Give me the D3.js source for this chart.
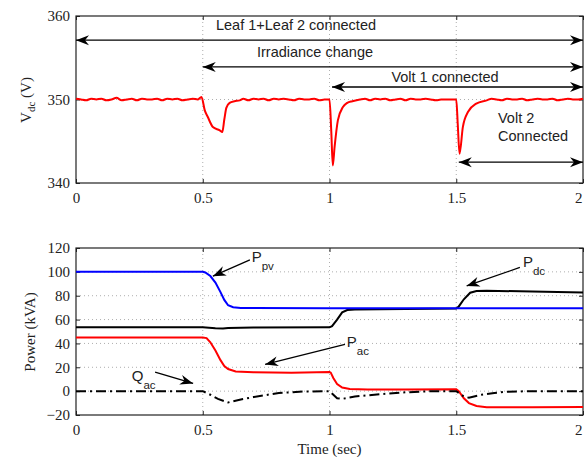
<!DOCTYPE html>
<html>
<head>
<meta charset="utf-8">
<script src="https://cdn.jsdelivr.net/npm/d3@7"></script>
<style>
  html, body { margin: 0; padding: 0; background: #fff; }
  svg { display: block; }
</style>
</head>
<body>
<svg id="chart" width="584" height="457"></svg>
<script>
// DC-link voltage, [time (s), Vdc (V)]
const vdcSeries = [
  [0,350.1],[0.02,350.0],[0.04,349.9],[0.06,350.1],[0.08,350.0],[0.1,350.1],[0.12,349.9],[0.14,350.0],
  [0.16,350.2],[0.18,349.9],[0.2,350.0],[0.22,350.1],[0.24,349.9],[0.26,350.1],[0.28,350.0],[0.3,350.0],
  [0.32,350.1],[0.34,349.9],[0.36,350.1],[0.38,350.0],[0.4,350.1],[0.42,349.9],[0.44,350.0],[0.46,350.1],
  [0.48,350.0],[0.495,350.3],[0.508,348.7],[0.52,347.9],[0.54,346.7],[0.567,346.3],[0.577,346.1],
  [0.585,347.6],[0.593,349.0],[0.606,349.6],[0.625,349.8],[0.646,349.9],[0.66,350.1],[0.68,349.9],
  [0.7,350.1],[0.72,350.0],[0.74,350.1],[0.76,349.9],[0.78,350.1],[0.8,350.0],[0.82,350.1],[0.84,350.0],
  [0.86,349.9],[0.88,350.1],[0.9,350.0],[0.92,350.0],[0.94,350.1],[0.96,349.9],[0.98,350.0],[1.0,350.0],
  [1.007,346.2],[1.013,342.1],[1.02,344.3],[1.033,347.5],[1.053,349.1],[1.07,349.6],[1.09,349.8],
  [1.12,350.0],[1.14,350.1],[1.16,349.9],[1.18,350.1],[1.2,350.0],[1.22,350.1],[1.24,349.9],[1.26,350.0],
  [1.28,350.1],[1.3,349.9],[1.32,350.1],[1.34,350.0],[1.36,350.0],[1.38,350.1],[1.4,350.0],[1.42,349.9],
  [1.44,350.0],[1.46,350.0],[1.48,350.0],[1.5,350.0],[1.506,347.0],[1.513,343.5],[1.526,346.7],
  [1.546,348.5],[1.579,349.5],[1.62,349.9],[1.64,350.1],[1.66,350.0],[1.68,349.9],[1.7,350.1],[1.72,350.0],
  [1.74,350.0],[1.76,350.1],[1.78,349.9],[1.8,350.0],[1.82,350.1],[1.84,350.0],[1.86,350.0],[1.88,350.1],
  [1.9,349.9],[1.92,350.0],[1.94,350.1],[1.96,350.0],[1.98,350.0],[2.0,350.1]
];

// Power flows, [time (s), kVA]
const ppvSeries = [
  [0,100],[0.5,100],[0.51,99.5],[0.53,96.5],[0.55,91],[0.57,83],[0.585,76.5],[0.6,72],
  [0.62,70.3],[0.65,69.8],[0.7,69.6],[1.0,69.5],[1.5,69.5],[2.0,69.5]
];
const pdcSeries = [
  [0,53.5],[0.5,53.5],[0.55,52.8],[0.58,52.6],[0.6,53.0],[0.7,53.3],[1.0,53.5],[1.01,54.5],
  [1.03,60],[1.05,66],[1.07,68.0],[1.1,68.5],[1.3,68.8],[1.5,69.2],[1.51,71],[1.53,77],
  [1.555,82.5],[1.58,84],[1.62,84.2],[1.8,83.5],[2.0,82.7]
];
const pacSeries = [
  [0,45],[0.5,45],[0.515,44.5],[0.53,41],[0.55,34],[0.57,26],[0.585,21],[0.6,18.5],[0.63,16.5],
  [0.7,15.8],[0.85,15.5],[1.0,16],[1.005,15.5],[1.015,11],[1.03,6],[1.05,3],[1.08,1.8],[1.15,1.3],
  [1.3,1.4],[1.5,1.5],[1.51,0],[1.53,-6],[1.55,-10],[1.58,-12.5],[1.62,-13.5],[1.8,-13.5],[2.0,-13.2]
];
const qacSeries = [
  [0,0],[0.5,0],[0.53,-3],[0.56,-6.5],[0.6,-9.5],[0.65,-7],[0.7,-5],[0.8,-1.5],[0.9,-0.3],[1.0,0],
  [1.01,-2],[1.03,-6],[1.05,-6.5],[1.1,-4.5],[1.2,-2.5],[1.3,-1],[1.4,0],[1.5,0],[1.51,-1.5],
  [1.53,-4.5],[1.55,-5.5],[1.6,-3],[1.65,-1.5],[1.7,-0.5],[1.8,0],[2.0,0]
];

// Tick values
const timeTicks = [0, 0.5, 1, 1.5, 2];
const vdcTicks = [340, 350, 360];
const powerTicks = [-20, 0, 20, 40, 60, 80, 100, 120];

const svg = d3.select("#chart");
const serif = "'Liberation Serif', 'Times New Roman', serif";
const sans = "'Liberation Sans', Arial, Helvetica, sans-serif";

const x = d3.scaleLinear().domain([0, 2]).range([76, 583]);
const yTop = d3.scaleLinear().domain([340, 360]).range([183, 16]);
const yBot = d3.scaleLinear().domain([-20, 120]).range([415, 248]);

// arrowhead marker (notched, filled)
const defs = svg.append("defs");
defs.append("marker")
  .attr("id", "head")
  .attr("viewBox", "-14 -6 15 12")
  .attr("refX", 0).attr("refY", 0)
  .attr("markerWidth", 15).attr("markerHeight", 12)
  .attr("markerUnits", "userSpaceOnUse")
  .attr("orient", "auto-start-reverse")
  .append("path")
  .attr("d", "M0,0 L-13,-5 L-9,0 L-13,5 Z")
  .attr("fill", "#000");

function drawPanel(y, yTicks) {
  const g = svg.append("g");
  const [x0, x1] = x.range();
  const [yb, yt] = y.range();

  // dotted grid
  const grid = g.append("g").attr("stroke", "#999").attr("stroke-width", 0.8)
    .attr("stroke-dasharray", "1,3");
  grid.selectAll(".gx").data(timeTicks.slice(1, -1)).join("line")
    .attr("x1", d => x(d)).attr("x2", d => x(d)).attr("y1", yb).attr("y2", yt);
  grid.selectAll(".gy").data(yTicks.slice(1, -1)).join("line")
    .attr("y1", d => y(d)).attr("y2", d => y(d)).attr("x1", x0).attr("x2", x1);

  // axes with inward ticks
  const bottom = g.append("g").attr("transform", `translate(0,${yb})`)
    .call(d3.axisBottom(x).tickValues(timeTicks).tickSizeInner(-4).tickSizeOuter(0)
      .tickPadding(9).tickFormat(d3.format("")));
  const left = g.append("g").attr("transform", `translate(${x0},0)`)
    .call(d3.axisLeft(y).tickValues(yTicks).tickSizeInner(-4).tickSizeOuter(0).tickPadding(6));
  g.append("g").attr("transform", `translate(0,${yt})`)
    .call(d3.axisTop(x).tickValues(timeTicks).tickSizeInner(-4).tickSizeOuter(0).tickFormat(""));
  g.append("g").attr("transform", `translate(${x1},0)`)
    .call(d3.axisRight(y).tickValues(yTicks).tickSizeInner(-4).tickSizeOuter(0).tickFormat(""));
  g.selectAll(".domain").remove();
  g.selectAll(".tick line").attr("stroke", "#222");
  [bottom, left].forEach(a => a.selectAll("text")
    .attr("font-family", serif).attr("font-size", 15).attr("fill", "#222"));
  // keep the last time label inside the canvas edge
  bottom.selectAll(".tick text").filter(d => d === 2)
    .attr("text-anchor", "end").attr("dx", -1);

  // frame
  g.append("rect").attr("x", x0).attr("y", yt).attr("width", x1 - x0).attr("height", yb - yt)
    .attr("fill", "none").attr("stroke", "#222").attr("stroke-width", 1.2);
  return g;
}

const line = y => d3.line().x(d => x(d[0])).y(d => y(d[1]));

// ---------- top panel: DC-link voltage ----------
drawPanel(yTop, vdcTicks);
svg.append("path").datum(vdcSeries).attr("d", line(yTop).curve(d3.curveMonotoneX))
  .attr("fill", "none").attr("stroke", "#ff0000").attr("stroke-width", 2).attr("stroke-linejoin", "round");

// event spans
const spans = [
  { from: 0, to: 2, yv: 357.1, label: "Leaf 1+Leaf 2 connected", tx: 296, ty: 358.3 },
  { from: 0.5, to: 2, yv: 353.9, label: "Irradiance change", tx: 315, ty: 355.1 },
  { from: 1.01, to: 2, yv: 351.5, label: "Volt 1 connected", tx: 445, ty: 352.1 },
  { from: 1.51, to: 2, yv: 342.5, label: null }
];
spans.forEach(s => {
  svg.append("line")
    .attr("x1", x(s.from)).attr("x2", x(s.to)).attr("y1", yTop(s.yv)).attr("y2", yTop(s.yv))
    .attr("stroke", "#000").attr("stroke-width", 1.3)
    .attr("marker-start", "url(#head)").attr("marker-end", "url(#head)");
  if (s.label) {
    svg.append("text").attr("x", s.tx).attr("y", yTop(s.ty)).attr("text-anchor", "middle")
      .attr("font-family", sans).attr("font-size", 14.5).attr("fill", "#222").text(s.label);
  }
});
svg.append("text").attr("font-family", sans).attr("font-size", 14.5).attr("fill", "#222")
  .selectAll("tspan").data(["Volt 2", "Connected"]).join("tspan")
  .attr("x", 498).attr("y", (d, i) => yTop(i ? 345 : 347.2)).text(d => d);

// y label V_dc (V)
const vlab = svg.append("text").attr("transform", `translate(31,${100}) rotate(-90)`)
  .attr("text-anchor", "middle").attr("font-family", serif).attr("font-size", 15).attr("fill", "#222");
vlab.append("tspan").text("V");
vlab.append("tspan").attr("font-size", 11).attr("dy", 4).text("dc");
vlab.append("tspan").attr("dy", -4).text(" (V)");

// ---------- bottom panel: power flows ----------
drawPanel(yBot, powerTicks);
const pl = line(yBot);
svg.append("path").datum(pdcSeries).attr("d", pl).attr("fill", "none")
  .attr("stroke", "#000").attr("stroke-width", 2);
svg.append("path").datum(ppvSeries).attr("d", pl).attr("fill", "none")
  .attr("stroke", "#0000ff").attr("stroke-width", 2);
svg.append("path").datum(pacSeries).attr("d", pl).attr("fill", "none")
  .attr("stroke", "#ff0000").attr("stroke-width", 2);
svg.append("path").datum(qacSeries).attr("d", pl).attr("fill", "none")
  .attr("stroke", "#000").attr("stroke-width", 2).attr("stroke-dasharray", "10,4,2,4");

// series callouts: label position and arrow from tail to head, in data units
const callouts = [
  { main: "P", sub: "pv", lx: 0.693, ly: 108, tail: [0.686, 110], head: [0.54, 96.4] },
  { main: "P", sub: "dc", lx: 1.763, ly: 104, tail: [1.751, 103.7], head: [1.541, 88.2] },
  { main: "P", sub: "ac", lx: 1.068, ly: 36.7, tail: [1.061, 39.2], head: [0.746, 22.4] },
  { main: "Q", sub: "ac", lx: 0.22, ly: 8.4, tail: [0.312, 16], head: [0.462, 6.5] }
];
callouts.forEach(c => {
  svg.append("line")
    .attr("x1", x(c.tail[0])).attr("y1", yBot(c.tail[1]))
    .attr("x2", x(c.head[0])).attr("y2", yBot(c.head[1]))
    .attr("stroke", "#000").attr("stroke-width", 1.3).attr("marker-end", "url(#head)");
  const t = svg.append("text").attr("x", x(c.lx)).attr("y", yBot(c.ly))
    .attr("font-family", sans).attr("font-size", 15).attr("fill", "#222");
  t.append("tspan").text(c.main);
  t.append("tspan").attr("font-size", 11.5).attr("dy", 8).text(c.sub);
});

svg.append("text").attr("transform", `translate(35,${332}) rotate(-90)`)
  .attr("text-anchor", "middle").attr("font-family", serif).attr("font-size", 15).attr("fill", "#222")
  .text("Power (kVA)");
svg.append("text").attr("x", x(1)).attr("y", 454).attr("text-anchor", "middle")
  .attr("font-family", serif).attr("font-size", 15).attr("fill", "#222").text("Time (sec)");
</script>
</body>
</html>
